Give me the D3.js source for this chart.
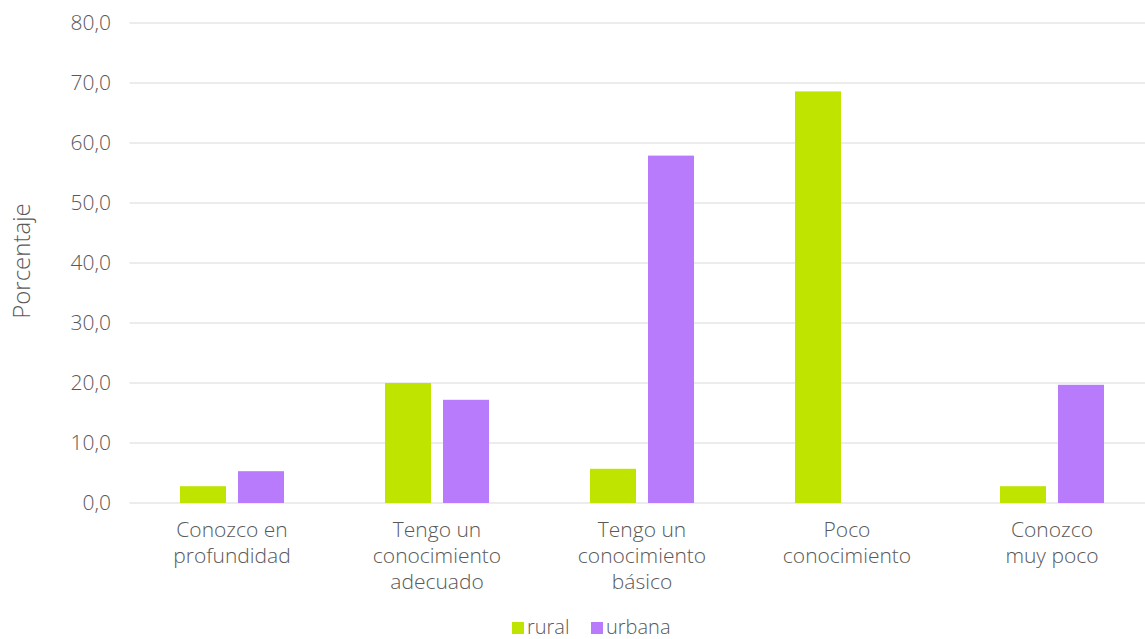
<!DOCTYPE html>
<html>
<head>
<meta charset="utf-8">
<script src="https://d3js.org/d3.v7.min.js"></script>
<style>
  body { margin: 0; background: #fff; }
  text { font-family: "Open Sans", Lato, sans-serif; font-weight: 300; fill: #595959; }
</style>
</head>
<body>
<div id="chart"></div>
<script>
const categories = [
  ["Conozco en", "profundidad"],
  ["Tengo un", "conocimiento", "adecuado"],
  ["Tengo un", "conocimiento", "básico"],
  ["Poco", "conocimiento"],
  ["Conozco", "muy poco"]
];
const seriesNames = ["rural", "urbana"];
const rural = [2.8, 20.0, 5.7, 68.6, 2.8];
const urbana = [5.3, 17.2, 57.9, 0, 19.7];
const yTicks = [0, 10, 20, 30, 40, 50, 60, 70, 80];
const colors = ["#bee400", "#b77bfb"];

const width = 1145, height = 639;
const plotLeft = 129.5, plotRight = 1154.5, plotTop = 23, plotBottom = 503;

const svg = d3.select("#chart").append("svg")
  .attr("width", width).attr("height", height);

const x = d3.scaleBand().domain(d3.range(categories.length))
  .range([plotLeft, plotRight]);
const inner = d3.scaleBand().domain(seriesNames)
  .range([x.bandwidth() / 2 - 52, x.bandwidth() / 2 + 52]).paddingInner(12 / 58);
const y = d3.scaleLinear().domain([0, 80]).range([plotBottom, plotTop]);

// grid
svg.append("g").selectAll("line").data(yTicks).join("line")
  .attr("x1", plotLeft).attr("x2", width)
  .attr("y1", d => y(d)).attr("y2", d => y(d))
  .attr("stroke", "#d9d9d9").attr("stroke-width", 1.2);

// y tick labels
svg.append("g").selectAll("text").data(yTicks).join("text")
  .attr("x", 111).attr("y", d => y(d)).attr("dy", "0.35em")
  .attr("text-anchor", "end").style("font-size", "21px")
  .text(d => d3.format(".1f")(d).replace(".", ","));

svg.append("text")
  .attr("transform", `translate(22, 261) rotate(-90)`)
  .attr("text-anchor", "middle").attr("dy", "0.35em").style("font-size", "24px")
  .text("Porcentaje");

// bars
const series = [rural, urbana];
series.forEach((vals, si) => {
  svg.append("g").selectAll("rect").data(vals).join("rect")
    .attr("x", (d, i) => x(i) + inner(seriesNames[si]))
    .attr("width", inner.bandwidth())
    .attr("y", d => y(d))
    .attr("height", d => y(0) - y(d))
    .attr("fill", colors[si]);
});

// category labels
const cat = svg.append("g").selectAll("text").data(categories).join("text")
  .attr("text-anchor", "middle").style("font-size", "21px")
  .attr("transform", (d, i) => `translate(${x(i) + x.bandwidth() / 2}, 537)`);
cat.selectAll("tspan").data(d => d).join("tspan")
  .attr("x", 0).attr("y", (d, i) => i * 26)
  .text(d => d);

// legend
const legendX = [512, 591];
const lg = svg.append("g").selectAll("g").data(seriesNames).join("g")
  .attr("transform", (d, i) => `translate(${legendX[i]}, 622)`);
lg.append("rect").attr("width", 12).attr("height", 12)
  .attr("fill", (d, i) => colors[i]);
lg.append("text").attr("x", 15).attr("y", 5).attr("dy", "0.35em")
  .style("font-size", "20px").text(d => d);
</script>
</body>
</html>
